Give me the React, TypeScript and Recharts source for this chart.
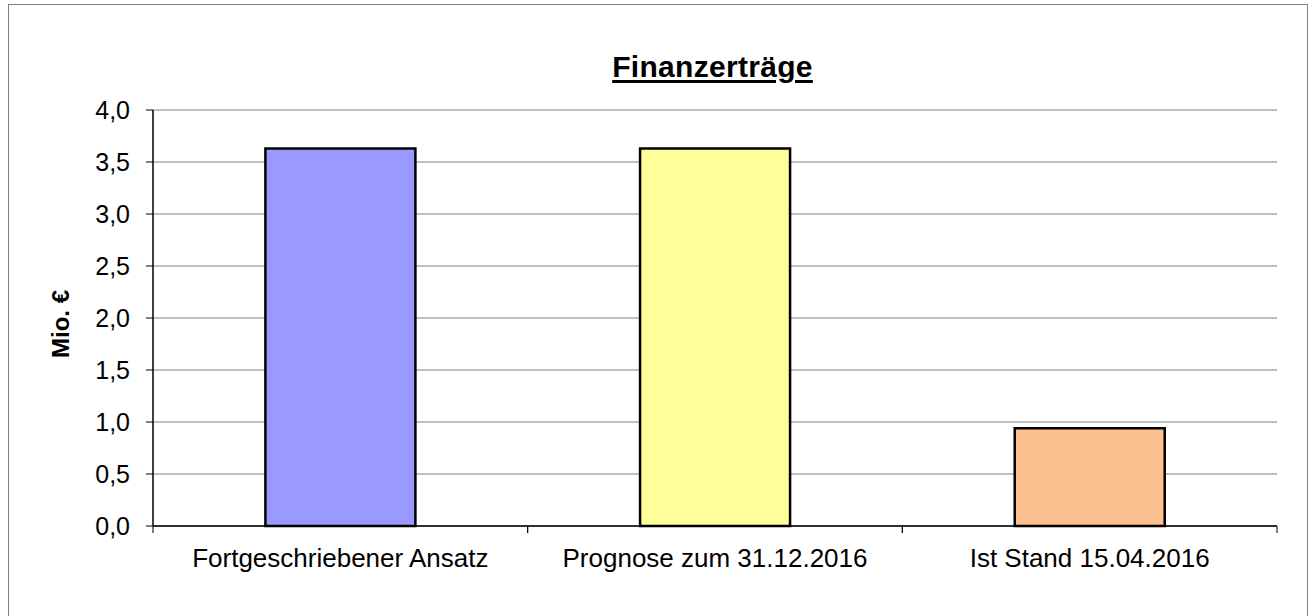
import { BarChart, Bar, XAxis, YAxis, CartesianGrid, Cell } from "recharts";

const categories = ["Fortgeschriebener Ansatz", "Prognose zum 31.12.2016", "Ist Stand 15.04.2016"];
const values = [3.63, 3.63, 0.94];
const barColors = ["#9999FF", "#FFFF99", "#FAC090"];
const yTicks = [0, 0.5, 1, 1.5, 2, 2.5, 3, 3.5, 4];

const data = categories.map((name, i) => ({ name, value: values[i] }));

const font = "'Liberation Sans', Arial, Helvetica, sans-serif";

function CategoryTick(props: any) {
  const { x, y, payload } = props;
  const half = payload?.offset ?? 0;
  return (
    <g>
      <line x1={x - half} x2={x - half} y1={y} y2={y + 7} stroke="#000" />
      <line x1={x + half} x2={x + half} y1={y} y2={y + 7} stroke="#000" />
      <text x={x} y={y + 41} textAnchor="middle" fill="#000" fontSize={26} fontFamily={font}>
        {payload.value}
      </text>
    </g>
  );
}

function YLabel(props: any) {
  const { viewBox } = props;
  const cx = viewBox.x + 51;
  const cy = viewBox.y + viewBox.height / 2 + 6;
  return (
    <text
      x={cx}
      y={cy}
      transform={`rotate(-90 ${cx} ${cy})`}
      textAnchor="middle"
      dominantBaseline="central"
      fontSize={24}
      fontWeight="bold"
      fontFamily={font}
      fill="#000"
    >
      Mio. €
    </text>
  );
}

export default function App() {
  return (
    <div
      style={{
        position: "absolute",
        left: 8,
        top: 4,
        width: 1300,
        height: 640,
        border: "1px solid #808080",
        boxSizing: "border-box",
        background: "#fff",
      }}
    >
      <div
        style={{
          position: "absolute",
          left: 403.5,
          width: 600,
          top: 47,
          height: 30,
          lineHeight: "30px",
          textAlign: "center",
          fontFamily: font,
          fontSize: 30,
          fontWeight: "bold",
          letterSpacing: "0.3px",
          textDecoration: "underline",
          textDecorationThickness: "3px",
          textUnderlineOffset: "3px",
        }}
      >
        Finanzerträge
      </div>
      <BarChart
        width={1298}
        height={616}
        data={data}
        margin={{ top: 105, right: 30, left: 0, bottom: 0 }}
        barCategoryGap="30%"
      >
        <CartesianGrid vertical={false} stroke="#808080" />
        <XAxis
          dataKey="name"
          height={95}
          tickLine={false}
          tickSize={0}
          tickMargin={0}
          axisLine={{ stroke: "#000", strokeWidth: 1.5 }}
          tick={<CategoryTick />}
          interval={0}
        />
        <YAxis
          width={144}
          domain={[0, 4]}
          ticks={yTicks}
          interval={0}
          tickSize={7}
          tickMargin={16}
          tickLine={{ stroke: "#000" }}
          axisLine={{ stroke: "#000", strokeWidth: 1.5 }}
          tickFormatter={(v: number) => v.toFixed(1).replace(".", ",")}
          tick={{ fill: "#000", fontSize: 25, fontFamily: font }}
          label={<YLabel />}
        />
        <YAxis
          yAxisId="frame"
          orientation="right"
          width={0}
          tick={false}
          tickLine={false}
          axisLine={{ stroke: "#808080", strokeWidth: 1.5 }}
        />
        <Bar dataKey="value" stroke="#000" strokeWidth={2.5} isAnimationActive={false}>
          {data.map((d, i) => (
            <Cell key={d.name} fill={barColors[i]} />
          ))}
        </Bar>
      </BarChart>
    </div>
  );
}
